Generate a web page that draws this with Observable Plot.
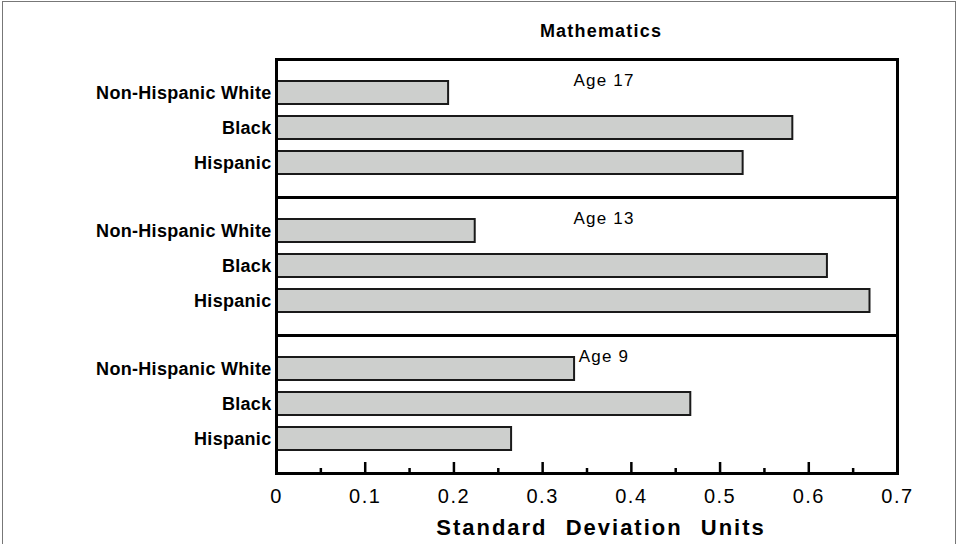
<!DOCTYPE html>
<html>
<head>
<meta charset="utf-8">
<script src="https://cdn.jsdelivr.net/npm/d3@7"></script>
<script src="https://cdn.jsdelivr.net/npm/@observablehq/plot@0.6"></script>
<style>
  html, body { margin: 0; padding: 0; background: #fff; }
  #wrap { position: relative; width: 959px; height: 544px; overflow: hidden; }
  #wrap svg { position: absolute; left: 0; top: 0; }
  #border { position: absolute; left: 2px; top: 1px; width: 952px; height: 600px;
            border: 1.5px solid #777; pointer-events: none; }
</style>
</head>
<body>
<div id="wrap"><div id="border"></div></div>
<script>
// ---- data ----
const chartTitle = "Mathematics";
const axisTitle = "Standard Deviation Units";
const ages = ["Age 17", "Age 13", "Age 9"];
const groups = ["Non-Hispanic White", "Black", "Hispanic"];
const valuesAge17 = [0.194, 0.582, 0.526];
const valuesAge13 = [0.224, 0.621, 0.669];
const valuesAge9  = [0.336, 0.467, 0.265];
const majorTicks = [0, 0.1, 0.2, 0.3, 0.4, 0.5, 0.6, 0.7];
const tickLabels = ["0", "0.1", "0.2", "0.3", "0.4", "0.5", "0.6", "0.7"];
const minorTicks = [0.05, 0.15, 0.25, 0.35, 0.45, 0.55, 0.65];

// ---- build table ----
const seriesByAge = [valuesAge17, valuesAge13, valuesAge9];
const rows = [];
ages.forEach((age, i) => groups.forEach((group, j) => rows.push({age, group, value: seriesByAge[i][j]})));
const labelOf = new Map(majorTicks.map((t, i) => [t, tickLabels[i]]));

const plot = Plot.plot({
  width: 959,
  height: 544,
  marginTop: 58,
  marginBottom: 71,
  marginLeft: 276,
  marginRight: 62,
  style: {fontFamily: "'Liberation Sans', Arial, Helvetica, sans-serif", color: "#000", background: "transparent"},
  x: {domain: [0, 0.7], axis: null},
  y: {domain: groups, paddingInner: 0.33, paddingOuter: 0.62, axis: null},
  fy: {domain: ages, padding: 0, axis: null},
  marks: [
    Plot.barX(rows, {x: "value", y: "group", fy: "age", fill: "#cdcfcd", stroke: "#1a1a1a", strokeWidth: 2}),
    Plot.frame({stroke: "#000", strokeWidth: 3}),
    Plot.axisY({tickSize: 0, tickPadding: 5, fontSize: 18, fontWeight: "bold", label: null}),
    Plot.axisX(majorTicks, {tickSize: -11, strokeWidth: 2.5, fill: "none"}),
    Plot.axisX(minorTicks, {tickSize: -5, strokeWidth: 2.5, fill: "none"}),
    Plot.axisX(majorTicks, {tickSize: 0, tickPadding: 15, tickFormat: d => labelOf.get(d), fontSize: 20, label: null}),
    Plot.text(ages.map(age => ({age})), {fy: "age", text: "age", frameAnchor: "top", dx: 17, dy: 21, lineAnchor: "middle", fontSize: 17}),
    Plot.text([{age: ages[0]}], {fy: "age", text: () => chartTitle, frameAnchor: "top", dx: 14, dy: -28, lineAnchor: "middle", fontSize: 18, fontWeight: "bold"}),
    Plot.text([{age: ages[ages.length - 1]}], {fy: "age", text: () => axisTitle, frameAnchor: "bottom", dx: 14, dy: 54, lineAnchor: "middle", fontSize: 22, fontWeight: "bold"})
  ]
});

document.getElementById("wrap").prepend(plot);

// typographic tweaks (letter spacing) to match the reference's wide type
const svg = d3.select(plot);
svg.selectAll('g[aria-label="y-axis tick label"] text').style("letter-spacing", "0.3px");
svg.selectAll('g[aria-label="x-axis tick label"] text').style("letter-spacing", "1.5px");
svg.selectAll("text").each(function () {
  const t = this.textContent;
  if (t === chartTitle) d3.select(this).style("letter-spacing", "1.2px");
  else if (t === axisTitle) d3.select(this).style("letter-spacing", "2px").style("word-spacing", "10px");
  else if (ages.includes(t)) d3.select(this).style("letter-spacing", "1.2px");
});
</script>
</body>
</html>
